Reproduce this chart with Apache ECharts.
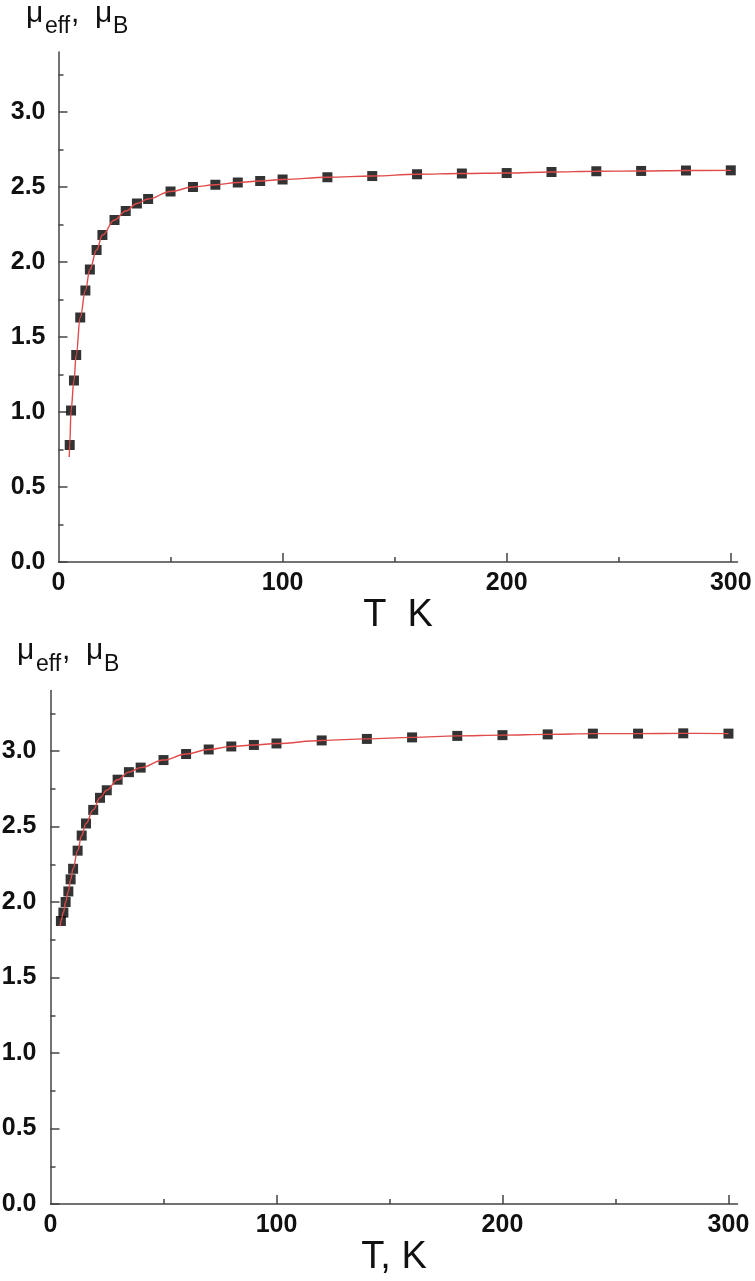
<!DOCTYPE html>
<html>
<head>
<meta charset="utf-8">
<script src="https://cdn.jsdelivr.net/npm/echarts@6/dist/echarts.min.js"></script>
<style>
  html, body { margin: 0; padding: 0; background: #fff; }
  #chart { width: 755px; height: 1281px; }
</style>
</head>
<body>
<div id="chart"></div>
<script>
// tick values
const yTicks = [0, 0.5, 1, 1.5, 2, 2.5, 3];
const yMinorTicks = [0.25, 0.75, 1.25, 1.75, 2.25, 2.75, 3.25];
const xLabels = [0, 100, 200, 300];
const xTicks = [100, 200, 300];
const xMinorTicks = [50, 150, 250];

// top panel
const topT = [5.0, 5.6, 6.9, 7.9, 9.7, 12, 14, 17, 19.6, 25, 30, 35, 40, 50, 60, 70, 80, 90, 100, 120, 140, 160, 180, 200, 220, 240, 260, 280, 300];
const topMu = [0.78, 1.01, 1.21, 1.38, 1.63, 1.81, 1.95, 2.08, 2.18, 2.28, 2.34, 2.39, 2.42, 2.47, 2.50, 2.515, 2.53, 2.54, 2.55, 2.565, 2.573, 2.585, 2.59, 2.593, 2.60, 2.605, 2.607, 2.61, 2.611];
const topFitStart = [4.8, 0.70];

// bottom panel
const botT = [4.6, 5.7, 6.7, 7.9, 8.9, 10, 12, 13.8, 15.7, 18.9, 21.9, 24.9, 29.7, 34.7, 39.9, 50, 60, 70, 80, 90, 100, 120, 140, 160, 180, 200, 220, 240, 260, 280, 300];
const botMu = [1.874, 1.93, 2.0, 2.07, 2.15, 2.22, 2.34, 2.44, 2.52, 2.61, 2.69, 2.74, 2.81, 2.86, 2.89, 2.94, 2.98, 3.01, 3.03, 3.04, 3.05, 3.07, 3.08, 3.09, 3.10, 3.105, 3.11, 3.115, 3.115, 3.117, 3.115];
const botFitStart = [4.3, 1.84];

const FONT = "'Liberation Sans', Arial, sans-serif";
const AXIS_COLOR = '#444';

function pairs(xs, ys) {
  return xs.map((x, i) => [x, ys[i]]);
}

function xAxes(grid, max, name) {
  return [{
    type: 'value', gridIndex: grid, min: 0, max: max, position: 'bottom',
    name: name, nameLocation: 'middle', nameGap: 30,
    nameTextStyle: { fontFamily: FONT, fontSize: 38, color: '#111' },
    axisLine: { onZero: false, lineStyle: { color: AXIS_COLOR, width: 1.5 } },
    axisTick: { inside: true, length: 9, customValues: xTicks, lineStyle: { color: AXIS_COLOR, width: 1.5 } },
    axisLabel: {
      customValues: xLabels, margin: 9, color: '#111',
      fontFamily: FONT, fontSize: 25, fontWeight: 'bold',
      formatter: v => String(v)
    },
    splitLine: { show: false }
  }, {
    type: 'value', gridIndex: grid, min: 0, max: max, position: 'bottom',
    axisLine: { show: false, onZero: false },
    axisTick: { inside: true, length: 5, customValues: xMinorTicks, lineStyle: { color: AXIS_COLOR, width: 1.5 } },
    axisLabel: { show: false },
    splitLine: { show: false }
  }];
}

function yAxes(grid, labelMargin) {
  return [{
    type: 'value', gridIndex: grid, min: 0, max: 3.4, position: 'left',
    axisLine: { onZero: false, lineStyle: { color: AXIS_COLOR, width: 1.5 } },
    axisTick: { inside: true, length: 9, customValues: yTicks, lineStyle: { color: AXIS_COLOR, width: 1.5 } },
    axisLabel: {
      customValues: yTicks, margin: labelMargin, color: '#111',
      fontFamily: FONT, fontSize: 25, fontWeight: 'bold',
      formatter: v => v.toFixed(1)
    },
    splitLine: { show: false }
  }, {
    type: 'value', gridIndex: grid, min: 0, max: 3.4, position: 'left',
    axisLine: { show: false, onZero: false },
    axisTick: { inside: true, length: 5, customValues: yMinorTicks, lineStyle: { color: AXIS_COLOR, width: 1.5 } },
    axisLabel: { show: false },
    splitLine: { show: false }
  }];
}

function points(xi, yi, data) {
  return {
    type: 'scatter', xAxisIndex: xi, yAxisIndex: yi, data: data,
    symbol: 'rect', symbolSize: 10,
    itemStyle: { color: '#000' },
    z: 2
  };
}

function fit(xi, yi, data) {
  return {
    type: 'line', xAxisIndex: xi, yAxisIndex: yi, data: data,
    showSymbol: false, smooth: 0.4, smoothMonotone: 'x',
    lineStyle: { color: '#e04a4a', width: 1.4 },
    z: 3
  };
}

function title(x, yMain, ySub) {
  const t = (text, dx, y, size) => ({
    type: 'text', x: x + dx, y: y,
    style: { text: text, font: size + 'px ' + FONT, fill: '#111', verticalAlign: 'middle' }
  });
  return [
    t('\u03bc', 0, yMain, 30),
    t('eff', 19, ySub, 23),
    t(',', 45, yMain, 30),
    t('\u03bc', 69, yMain, 30),
    t('B', 87, ySub, 23)
  ];
}

const chart = echarts.init(document.getElementById('chart'), null, { renderer: 'canvas' });

const option = {
  backgroundColor: '#fff',
  animation: false,
  grid: [
    { left: 58.5, top: 52, width: 679, height: 510, outerBoundsMode: 'none' },
    { left: 50.5, top: 690.6, width: 687, height: 513.4, outerBoundsMode: 'none' }
  ],
  xAxis: [].concat(xAxes(0, 303, 'T  K'), xAxes(1, 304, 'T, K')),
  yAxis: [].concat(yAxes(0, 13), yAxes(1, 14)),
  series: [
    points(0, 0, pairs(topT, topMu)),
    fit(0, 0, [topFitStart].concat(pairs(topT, topMu))),
    points(2, 2, pairs(botT, botMu)),
    fit(2, 2, [botFitStart].concat(pairs(botT, botMu)))
  ],
  graphic: [].concat(title(26, 14, 27), title(17, 651, 665))
};

chart.setOption(option);
</script>
</body>
</html>
